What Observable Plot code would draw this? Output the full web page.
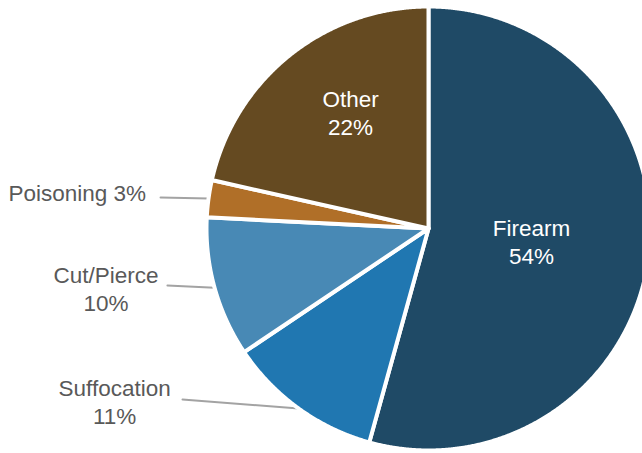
<!DOCTYPE html>
<html>
<head>
<meta charset="utf-8">
<script src="https://cdn.jsdelivr.net/npm/d3@7"></script>
<script src="https://cdn.jsdelivr.net/npm/@observablehq/plot@0.6"></script>
<style>
  html, body { margin: 0; padding: 0; background: #fff; }
  #chart svg { display: block; }
</style>
</head>
<body>
<div id="chart"></div>
<script>
// ---- data ----
const categories = ["Firearm", "Suffocation", "Cut/Pierce", "Poisoning", "Other"];
const shares = [54.3, 11.3, 10.2, 2.7, 21.5];
const percentLabels = ["54%", "11%", "10%", "3%", "22%"];

// ---- styles ----
const palette = ["#1f4a66", "#2077b1", "#4889b5", "#b06f28", "#654a21"];

// ---- layout (pie centre/radius in px, labels in pie-radius units) ----
const W = 642, H = 453;
const pieLayout = {cx: 428, cy: 228, r: 222};
const labelLayout = {
  "Firearm":     {inside: true, x: 0.464, y: 0.058},
  "Other":       {inside: true, x: -0.351, y: -0.525},
  "Poisoning":   {oneLine: true, x: -1.272, y: -0.156, lx: -1.207, ly: -0.140},
  "Cut/Pierce":  {x: -1.453, y: 0.268, lx: -1.176, ly: 0.257},
  "Suffocation": {x: -1.414, y: 0.779, lx: -1.108, ly: 0.770}
};

const rows = categories.map((name, i) => ({name, value: shares[i], pct: percentLabels[i]}));
const arcs = d3.pie().sort(null).value(d => d.value)(rows);

// slice outlines
const step = Math.PI / 720;
const slicePts = arcs.flatMap(a => {
  const pts = [{name: a.data.name, x: 0, y: 0}];
  const n = Math.max(2, Math.ceil((a.endAngle - a.startAngle) / step));
  for (let k = 0; k <= n; k++) {
    const t = a.startAngle + (a.endAngle - a.startAngle) * k / n;
    pts.push({name: a.data.name, x: Math.sin(t), y: -Math.cos(t)});
  }
  return pts;
});

// leader lines for outside labels
const leaderPts = arcs.filter(a => !labelLayout[a.data.name].inside).flatMap(a => {
  const m = (a.startAngle + a.endAngle) / 2;
  const L = labelLayout[a.data.name];
  return [
    {name: a.data.name, x: L.lx, y: L.ly},
    {name: a.data.name, x: Math.sin(m), y: -Math.cos(m)}
  ];
});

const insideLabels = rows.filter(d => labelLayout[d.name].inside)
  .map(d => ({text: d.name + "\n" + d.pct, x: labelLayout[d.name].x, y: labelLayout[d.name].y}));
const outsideTwo = rows.filter(d => !labelLayout[d.name].inside && !labelLayout[d.name].oneLine)
  .map(d => ({text: d.name + "\n" + d.pct, x: labelLayout[d.name].x, y: labelLayout[d.name].y}));
const outsideOne = rows.filter(d => labelLayout[d.name].oneLine)
  .map(d => ({text: d.name + " " + d.pct, x: labelLayout[d.name].x, y: labelLayout[d.name].y}));

const {cx, cy, r} = pieLayout;
const chart = Plot.plot({
  width: W,
  height: H,
  margin: 0,
  style: {fontFamily: "'Liberation Sans', Arial, Helvetica, sans-serif", background: "#fff", overflow: "hidden"},
  x: {domain: [-cx / r, (W - cx) / r], range: [0, W], axis: null},
  y: {domain: [-cy / r, (H - cy) / r], range: [0, H], axis: null},
  color: {domain: categories, range: palette},
  marks: [
    Plot.line(leaderPts, {x: "x", y: "y", z: "name", stroke: "#a3a3a3", strokeWidth: 2}),
    Plot.line(slicePts, {x: "x", y: "y", z: "name", fill: "name", stroke: "white", strokeWidth: 4,
      strokeLinejoin: "round", curve: "linear-closed"}),
    Plot.text(insideLabels, {x: "x", y: "y", text: "text", fill: "white", fontSize: 22.5, lineHeight: 1.24,
      textAnchor: "middle"}),
    Plot.text(outsideTwo, {x: "x", y: "y", text: "text", fill: "#595959", fontSize: 22.5, lineHeight: 1.24,
      textAnchor: "middle"}),
    Plot.text(outsideOne, {x: "x", y: "y", text: "text", fill: "#595959", fontSize: 22.5, textAnchor: "end"})
  ]
});
document.getElementById("chart").appendChild(chart);
</script>
</body>
</html>
